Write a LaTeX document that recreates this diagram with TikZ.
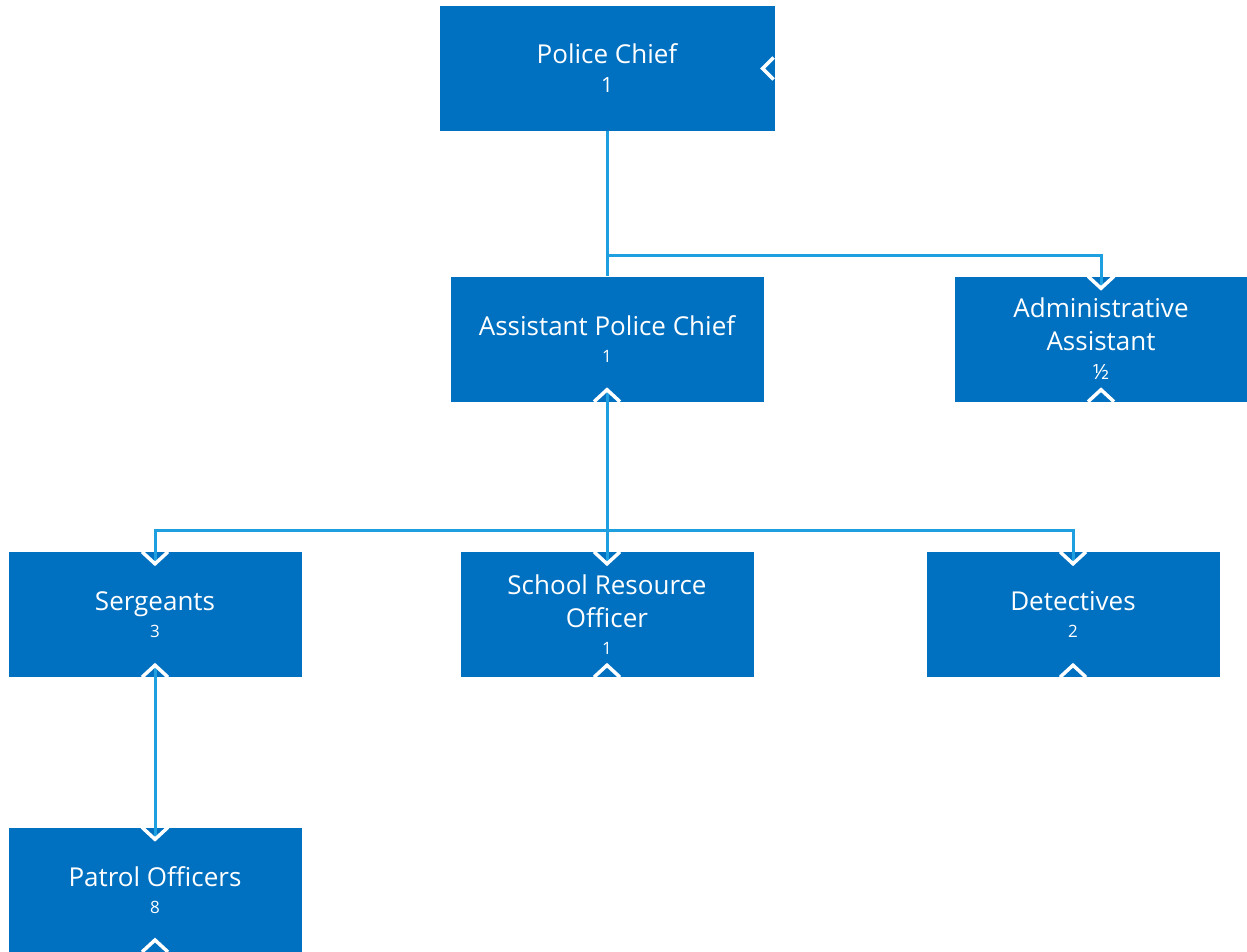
\documentclass[tikz,border=0pt]{standalone}
\usepackage{fontspec}
\setmainfont{Open Sans}
\usetikzlibrary{calc}
\definecolor{boxblue}{RGB}{0,112,192}
\definecolor{lineblue}{RGB}{30,160,224}
\tikzset{
  orgbox/.style={fill=boxblue, text=white, minimum width=293pt, minimum height=125pt, inner sep=0pt, align=center, font=\fontsize{26}{33}\selectfont},
  conn/.style={draw=lineblue, line width=3pt},
  chev/.style={draw=white, line width=3.5pt, line cap=butt, line join=miter}
}
\newcommand{\subnum}[1]{\\[-6pt]{\fontsize{17}{20}\selectfont #1}}
\begin{document}
\begin{tikzpicture}[x=1pt,y=-1pt]
\useasboundingbox (0,0) rectangle (1247,952);
\node[orgbox, minimum width=335pt] (pc) at (607,68.5) {Police Chief\\[-4pt]{\fontsize{21}{24}\selectfont 1}};
\node[orgbox, minimum width=313pt] (apc) at (607,339) {Assistant Police Chief\subnum{1}};
\node[orgbox] (adm) at (1101,339) {Administrative\\Assistant\\[-4pt]{\fontsize{21}{24}\selectfont ½}};
\node[orgbox] (sgt) at (155,614.5) {Sergeants\subnum{3}};
\node[orgbox] (sro) at (607,614.5) {School Resource\\Officer\subnum{1}};
\node[orgbox] (det) at (1073,614.5) {Detectives\subnum{2}};
\node[orgbox] (pat) at (155,890) {Patrol Officers\subnum{8}};
% connectors
\coordinate (j1) at (607,255);
\coordinate (j2) at (607,530);
\draw[conn] (pc.south) -- (apc.north);
\draw[conn] (j1) -| ($(adm.north)+(0,13)$);
\draw[conn] ($(apc.south)+(0,-11)$) -- (j2);
\draw[conn] (j2) -| ($(sgt.north)+(0,12)$);
\draw[conn] (j2) -- ($(sro.north)+(0,12)$);
\draw[conn] (j2) -| ($(det.north)+(0,12)$);
\draw[conn] ($(sgt.south)+(0,-11)$) -- ($(pat.north)+(0,12)$);
% chevrons (white markers)
\draw[chev] ($(pc.east)+(-1,-11)$) -- ($(pc.east)+(-12,0)$) -- ($(pc.east)+(-1,11)$);
\foreach \n in {adm,sgt,sro,det,pat}{
  \draw[chev] ($(\n.north)+(-13,0)$) -- ($(\n.north)+(0,12)$) -- ($(\n.north)+(13,0)$);
}
\foreach \n in {apc,adm,sgt,sro,det}{
  \draw[chev] ($(\n.south)+(-13,0)$) -- ($(\n.south)+(0,-12)$) -- ($(\n.south)+(13,0)$);
}
\draw[chev] (142,952) -- (155,940) -- (168,952);
\end{tikzpicture}
\end{document}
